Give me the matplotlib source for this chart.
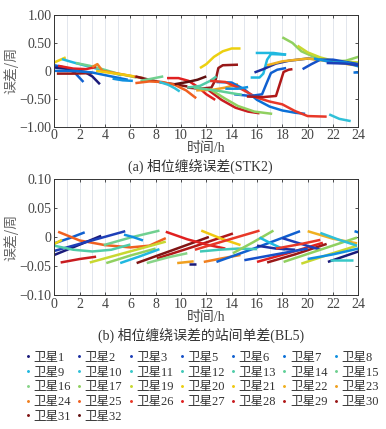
import matplotlib
matplotlib.use("Agg")
import matplotlib.pyplot as plt
from matplotlib.lines import Line2D
from matplotlib.ticker import MultipleLocator, FixedLocator

# ---------------- data ----------------
sat_ids = [1, 2, 3, 5, 6, 7, 8, 9, 10, 11, 12, 13, 14, 15, 16, 17,
           19, 20, 21, 22, 23, 24, 25, 26, 27, 28, 29, 30, 31, 32]
sat_colors = ["#1a1a7a", "#1c2fa0", "#1d3fb8", "#1550c8", "#1060d0", "#0a70d8",
              "#1090e0", "#20b8e0", "#30c0d8", "#38c8c8", "#40c8b8", "#50cca8",
              "#60d098", "#70d090", "#88d488", "#90d060", "#c8d830", "#ecd010",
              "#f0c810", "#f0b020", "#f0a020", "#f08020", "#f06020", "#e83828",
              "#e02020", "#c81c20", "#b01818", "#981818", "#801414", "#601010"]

x_ticks = [0, 2, 4, 6, 8, 10, 12, 14, 16, 18, 20, 22, 24]
top_yticks = [-1.0, -0.5, 0.0, 0.5, 1.0]
top_ylabels = ["\u22121.00", "\u22120.50", "0", "0.50", "1.00"]
bot_yticks = [-0.10, -0.05, 0.0, 0.05, 0.10]
bot_ylabels = ["\u22120.10", "\u22120.05", "0", "0.05", "0.10"]

# (a) phase wind-up error STK2 : satellite of each arc, times (h), values (cycles)
stk2_sat = [20, 9, 15, 6, 1, 27, 24, 30, 7, 21, 8, 31, 15, 25, 10, 27, 32, 20,
            30, 13, 23, 7, 28, 17, 26, 6, 29, 9, 9, 2, 22, 17, 19, 5, 10, 8, 7, 3, 8, 14]
stk2_t = [
    [0, 0.4, 0.9],
    [0.6, 1.5, 2.5, 3.5, 4.5, 5.3],
    [1.7, 2.8, 3.8, 5, 6.5],
    [0, 0.8, 1.6, 2.3],
    [0, 1.2, 2.4, 3.0, 3.6],
    [0.3, 1.5, 2.5, 3.3],
    [3.0, 3.4, 3.8, 4.8, 6, 7],
    [0.2, 1.5, 3.0],
    [0, 1.5, 3, 4.5, 5.8],
    [3.3, 4.5, 5.5, 6.3],
    [4.6, 5.4, 6.2],
    [6.4, 7.5, 8.5, 9.5, 10.5],
    [6.8, 7.7, 8.6],
    [6.4, 7.5, 8.5, 9.5, 10.4, 11.2],
    [8.3, 9.0, 9.5, 9.9],
    [8.9, 9.8, 10.6, 11.4, 12.0, 12.7],
    [9.5, 10.5, 11.3, 12.0],
    [11.5, 12.0, 12.6, 13.3, 14.0, 14.7],
    [10.5, 11.5, 12.4, 12.75, 12.95, 13.3, 14.5],
    [10.5, 11.5, 12.3, 12.8],
    [11.2, 12.5, 13.5, 14.5],
    [12.8, 14, 15, 16, 17, 18, 19, 19.8],
    [12.2, 13.2, 14.3, 15.3, 16.2],
    [12.3, 13.5, 14.5, 15.8, 17.2],
    [12.3, 13.5, 14.8, 16, 17, 18, 19, 20, 21.5],
    [14.2, 15.5, 16.4, 16.8, 17.1, 17.6, 18.3],
    [15.2, 16.5, 17.5, 17.85, 18.1, 18.5, 18.8],
    [15.5, 16.2, 16.5, 16.8, 17.1, 18.3],
    [15.9, 17.3, 18.3],
    [15.8, 16.5, 17.5, 18.5, 20, 21.3],
    [16.8, 18, 20, 22, 24],
    [18, 18.8, 19.5, 20.5, 22, 23, 24],
    [19.2, 20, 21, 22, 24],
    [19.6, 20.3, 21, 22, 24],
    [21.7, 22.5, 23.4],
    [20.5, 22, 23, 24],
    [23.6, 24],
    [21.5, 23, 24],
    [13.5, 14.5, 15.3],
    [11, 12, 13, 14, 14.8],
]
stk2_v = [
    [0.15, 0.19, 0.24],
    [0.21, 0.15, 0.09, 0.03, -0.03, -0.08],
    [0.14, 0.09, 0.03, -0.05, -0.12],
    [0.10, 0.06, -0.03, -0.20],
    [0.06, 0.03, -0.02, -0.10, -0.24],
    [0.09, 0.04, 0.03, 0.07],
    [0.07, 0.12, 0.0, -0.04, -0.09, -0.13],
    [-0.05, -0.05, -0.04],
    [0.0, 0.0, -0.03, -0.10, -0.16],
    [0.0, -0.04, -0.07, -0.10],
    [-0.14, -0.17, -0.18],
    [-0.10, -0.16, -0.21, -0.24, -0.28],
    [-0.18, -0.14, -0.10],
    [-0.22, -0.19, -0.20, -0.25, -0.35, -0.49],
    [-0.20, -0.25, -0.31, -0.37],
    [-0.13, -0.13, -0.18, -0.30, -0.42, -0.52],
    [-0.24, -0.20, -0.16, -0.10],
    [0.05, 0.12, 0.25, 0.35, 0.40, 0.40],
    [-0.30, -0.32, -0.30, -0.15, 0.05, 0.10, 0.11],
    [-0.30, -0.27, -0.18, -0.10],
    [-0.35, -0.34, -0.30, -0.24],
    [-0.20, -0.21, -0.33, -0.52, -0.64, -0.71, -0.75, -0.77],
    [-0.35, -0.52, -0.66, -0.73, -0.76],
    [-0.33, -0.50, -0.63, -0.73, -0.77],
    [-0.18, -0.20, -0.33, -0.48, -0.55, -0.60, -0.72, -0.81, -0.82],
    [-0.42, -0.45, -0.42, -0.20, -0.04, 0.02, 0.05],
    [-0.46, -0.47, -0.45, -0.20, -0.02, 0.02, 0.03],
    [-0.12, -0.12, -0.05, 0.20, 0.30, 0.29],
    [0.32, 0.32, 0.29],
    [-0.03, 0.03, 0.13, 0.18, 0.22, 0.20],
    [0.10, 0.17, 0.22, 0.16, 0.09],
    [0.60, 0.50, 0.35, 0.25, 0.17, 0.18, 0.25],
    [0.45, 0.33, 0.24, 0.18, 0.15],
    [0.03, 0.12, 0.20, 0.20, 0.12],
    [-0.78, -0.86, -0.90],
    [0.22, 0.15, 0.15, 0.08],
    [-0.02, -0.02],
    [0.14, 0.13, 0.10],
    [-0.32, -0.32, -0.29],
    [-0.30, -0.33, -0.36, -0.40, -0.43],
]

# (b) between-station single difference BL5
bl5_sat = [6, 25, 1, 3, 20, 13, 28, 19, 17, 9, 15, 8, 31, 29, 27, 16, 23, 1, 21,
           26, 24, 6, 12, 17, 9, 2, 27, 30, 3, 22, 17, 19, 10, 1, 11, 7, 8, 26, 5]
bl5_t = [
    [0, 1.2, 2.4],
    [0.3, 2, 4, 6, 7.5, 8.8],
    [0, 1.8, 3.7],
    [0, 2.8, 5.6],
    [0, 0.6],
    [0, 1.5, 3, 4.5, 6],
    [0.5, 2, 3.3],
    [2.8, 5.8, 8.8],
    [4.1, 6, 8],
    [5.2, 6.8, 8.3],
    [3.9, 6, 8.3],
    [5.5, 6.2, 7],
    [6.5, 9.3, 12.2],
    [8.1, 11.1, 14.1],
    [8.8, 10.5, 12, 13.5],
    [7.3, 9, 10.5],
    [9.7, 11],
    [10.6, 11.2],
    [11.6, 13.2, 14.7],
    [11.1, 13.7, 16.2],
    [11.8, 13.2, 14.7],
    [12.8, 16, 19.4],
    [11.5, 13, 14.5, 16],
    [14.1, 15.7, 17.3],
    [16.2, 17.2, 18.2],
    [16, 17.5, 19],
    [16, 18.6, 21.2],
    [16.8, 19, 21.5],
    [18, 19.5, 21],
    [20, 22, 23.9],
    [18.1, 21, 23.9],
    [19.5, 21.7, 23.9],
    [21, 22.5, 23.9],
    [21.6, 22.8, 24],
    [21.8, 23.6],
    [23.7, 24],
    [20, 22, 24],
    [17.5, 19.5, 21],
    [15, 17.5, 20],
]
bl5_v = [
    [-0.011, -0.002, 0.008],
    [0.009, -0.006, -0.014, -0.018, -0.015, -0.002],
    [-0.031, -0.015, 0.002],
    [-0.024, -0.007, 0.010],
    [-0.012, -0.005],
    [-0.015, -0.022, -0.025, -0.022, -0.013],
    [-0.044, -0.038, -0.034],
    [-0.044, -0.026, -0.008],
    [-0.045, -0.032, -0.020],
    [-0.045, -0.033, -0.021],
    [-0.014, -0.001, 0.011],
    [0.004, 0.0, -0.006],
    [-0.045, -0.023, 0.0],
    [-0.037, -0.016, 0.006],
    [0.009, -0.004, -0.013, -0.020],
    [-0.045, -0.035, -0.028],
    [-0.045, -0.042],
    [-0.046, -0.046],
    [0.011, -0.003, -0.014],
    [-0.022, -0.005, 0.011],
    [-0.043, -0.037, -0.031],
    [-0.043, -0.018, 0.010],
    [-0.025, -0.022, -0.020, -0.021],
    [-0.028, -0.009, 0.011],
    [-0.001, -0.012, -0.022],
    [-0.015, -0.020, -0.022],
    [-0.043, -0.027, -0.010],
    [-0.044, -0.030, -0.012],
    [-0.002, -0.012, -0.022],
    [0.010, -0.003, -0.011],
    [-0.043, -0.022, -0.001],
    [-0.046, -0.030, -0.015],
    [0.007, -0.005, -0.015],
    [-0.043, -0.034, -0.025],
    [-0.040, -0.040],
    [0.010, 0.008],
    [-0.038, -0.030, -0.020],
    [-0.020, -0.012, -0.005],
    [-0.040, -0.030, -0.020],
]

# ---------------- drawing ----------------
color_of = dict(zip(sat_ids, sat_colors))
SERIF = ["Liberation Serif", "Noto Sans CJK SC", "DejaVu Sans"]
CJK = ["Noto Sans CJK SC", "DejaVu Sans"]
TXT = "#444444"

fig = plt.figure(figsize=(3.86, 4.29), dpi=100)
ax1 = fig.add_axes([0.1407, 0.7047, 0.7876, 0.2604])
ax2 = fig.add_axes([0.1407, 0.3124, 0.7876, 0.2704])


def style(ax, yt, yl, ylim):
    ax.set_xlim(0, 24)
    ax.set_ylim(*ylim)
    ax.xaxis.set_major_locator(FixedLocator(x_ticks))
    ax.xaxis.set_minor_locator(MultipleLocator(1))
    ax.set_xticklabels([str(v) for v in x_ticks], fontfamily=SERIF, fontsize=10, color=TXT)
    ax.set_yticks(yt)
    ax.set_yticklabels(yl, fontfamily=SERIF, fontsize=10, color=TXT)
    ax.grid(True, axis="x", which="both", color="#dde2ea", linewidth=0.6)
    ax.set_axisbelow(True)
    ax.tick_params(which="both", direction="in", top=True, right=True,
                   length=2.5, width=0.6, color="#333333", pad=2)
    ax.tick_params(which="minor", length=0)
    for s in ax.spines.values():
        s.set_color("#333333")
        s.set_linewidth(0.7)
    ax.set_ylabel("误差/周", fontfamily=CJK, fontsize=10, color="#666666", labelpad=1)
    ax.set_xlabel("时间/h", fontfamily=SERIF, fontsize=10, color=TXT, labelpad=0)


for s, t, v in zip(stk2_sat, stk2_t, stk2_v):
    ax1.plot(t, v, color=color_of[s], lw=1.8, solid_capstyle="butt")
for s, t, v in zip(bl5_sat, bl5_t, bl5_v):
    ax2.plot(t, v, color=color_of[s], lw=1.8, solid_capstyle="butt")

style(ax1, top_yticks, top_ylabels, (-1.0, 1.0))
style(ax2, bot_yticks, bot_ylabels, (-0.1, 0.1))

fig.text(0.52, 0.612, "(a) 相位缠绕误差(STK2)", ha="center", va="center",
         fontfamily=SERIF, fontsize=10, color="#333333")
fig.text(0.52, 0.219, "(b) 相位缠绕误差的站间单差(BL5)", ha="center", va="center",
         fontfamily=SERIF, fontsize=10, color="#333333")

# legend: reorder so that column-wise fill reads row-wise
ncol = 7
handles = [Line2D([], [], ls="none", marker=".", markersize=2.2, color=c) for c in sat_colors]
labels = ["卫星%d" % i for i in sat_ids]
n = len(handles)
rows = (n + ncol - 1) // ncol
order = []
for c in range(ncol):
    for r in range(rows):
        k = r * ncol + c
        if k < n:
            order.append(k)
leg = fig.legend([handles[k] for k in order], [labels[k] for k in order],
                 ncol=ncol, loc="upper left", bbox_to_anchor=(0.066, 0.18),
                 frameon=False, prop={"family": SERIF, "size": 9},
                 handlelength=0.4, handletextpad=0.25, columnspacing=0.45,
                 labelspacing=0.22, borderaxespad=0, borderpad=0, labelcolor="#333333")

fig.savefig("out.png", dpi=100)
